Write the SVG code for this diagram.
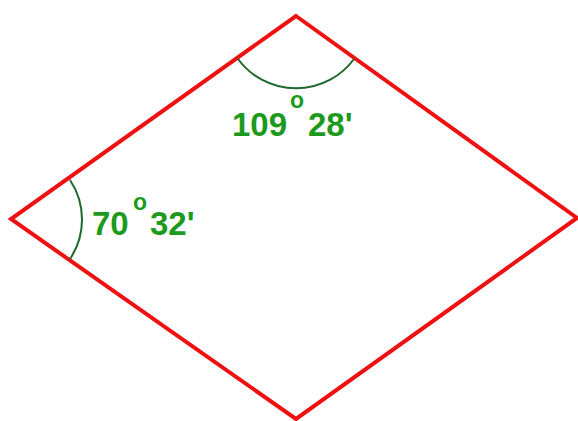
<svg xmlns="http://www.w3.org/2000/svg" width="578" height="421" viewBox="0 0 578 421">
<style>
.edge{fill:none;stroke:#ee1111;stroke-width:4;stroke-linejoin:miter}
.arc{fill:none;stroke:#1e6a2e;stroke-width:2}
.lbl{font-family:"Liberation Sans",Arial,sans-serif;font-weight:bold;fill:#1d9a1d}
.big{font-size:33px}
.deg{font-size:23px}
</style>
<rect width="578" height="421" fill="#fff"/>
<g id="rhombus">
<polygon class="edge" points="296,16 577,218 296,419 11,219"/>
</g>
<g id="connectors">
<path class="arc" d="M238,59 A72,72 0 0 0 354,59"/>
<path class="arc" d="M70,180 A71,71 0 0 1 70,259"/>
</g>
<g id="label-top">
<text class="lbl big" x="232" y="136">109</text>
<text class="lbl deg" x="290" y="108">o</text>
<text class="lbl big" x="308" y="136">28'</text>
</g>
<g id="label-left">
<text class="lbl big" x="92" y="235">70</text>
<text class="lbl deg" x="133" y="210">o</text>
<text class="lbl big" x="150" y="235">32'</text>
</g>
</svg>
